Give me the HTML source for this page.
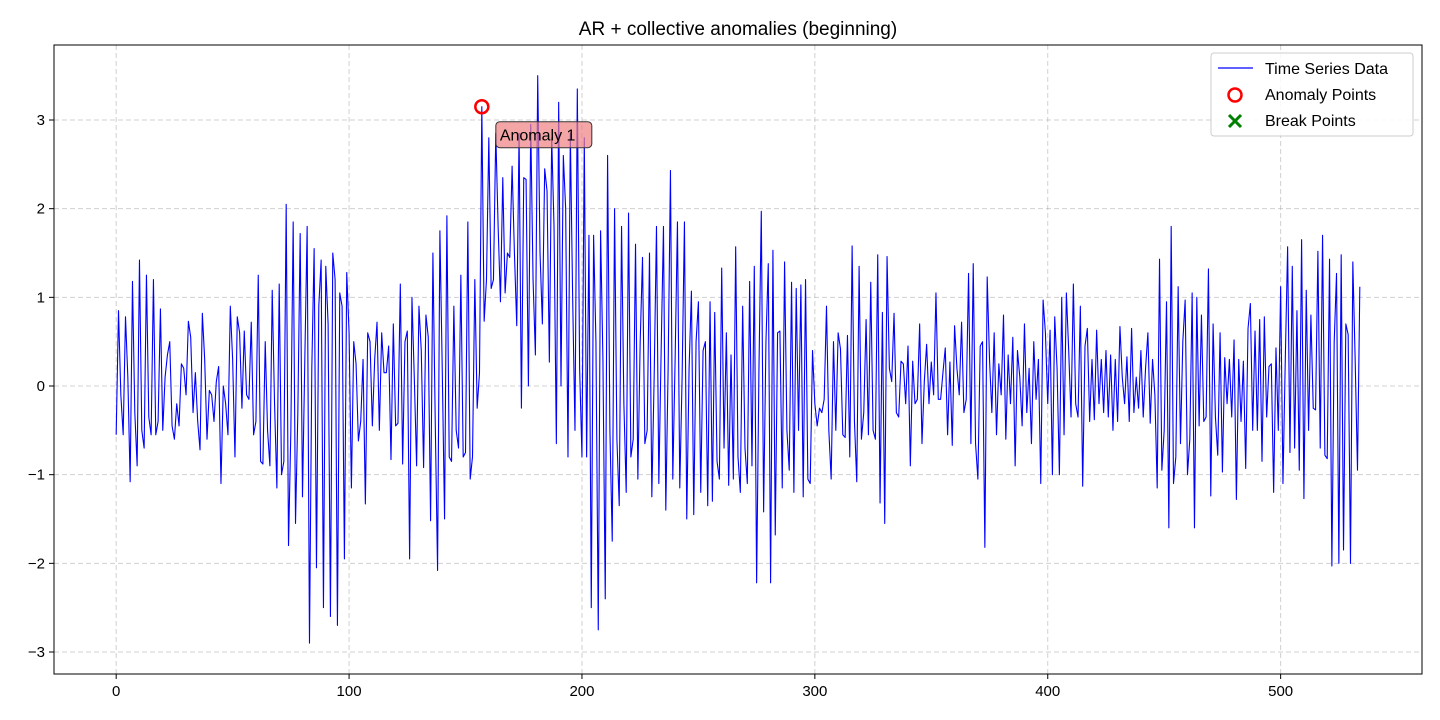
<!DOCTYPE html>
<html><head><meta charset="utf-8"><style>
html,body{margin:0;padding:0;background:#fff;}
svg{display:block;font-family:"Liberation Sans","DejaVu Sans",sans-serif;}
</style></head><body>
<svg id="chart" width="1440" height="720" viewBox="0 0 1440 720" xmlns="http://www.w3.org/2000/svg">
<rect width="1440" height="720" fill="#fff"/>
<text x="738" y="35" text-anchor="middle" font-size="19">AR + collective anomalies (beginning)</text>
<g id="grid"></g>
<g id="ticks"></g>
<g id="series"></g>
<rect x="54" y="45" width="1368" height="629" fill="none" stroke="#000" stroke-width="1"/>
<g id="anno"></g>
<g>
<rect x="1211" y="53" width="202" height="83" rx="3" fill="#fff" fill-opacity="0.85" stroke="#ccc"/>
<line x1="1218" y1="68" x2="1253" y2="68" stroke="#0000ff" stroke-width="1.2"/>
<text x="1265" y="74" font-size="16">Time Series Data</text>
<circle cx="1235" cy="95" r="6.5" fill="none" stroke="#ff0000" stroke-width="2.5"/>
<text x="1265" y="100" font-size="16">Anomaly Points</text>
<g stroke="#008000" stroke-width="3"><line x1="1229" y1="115" x2="1241" y2="127"/><line x1="1241" y1="115" x2="1229" y2="127"/></g>
<text x="1265" y="126" font-size="16">Break Points</text>
</g>
</svg>
<script>
const values = [
-0.55,0.85,-0.1,-0.55,0.78,0.1,-1.08,1.18,-0.3,-0.9,1.42,-0.5,-0.7,1.25,-0.35,-0.55,1.2,-0.55,-0.4,0.87,-0.5,0.1,0.35,0.5,-0.45,-0.6,
-0.2,-0.45,0.25,0.2,-0.1,0.73,0.55,-0.3,0.15,-0.4,-0.72,0.82,0.3,-0.6,-0.05,-0.1,-0.4,0.05,0.22,-1.1,0,-0.2,-0.55,0.9,0.3,
-0.8,0.78,0.6,-0.25,0.62,-0.1,-0.15,0.72,-0.55,-0.4,1.25,-0.85,-0.88,0.5,-0.5,-0.9,1.08,-0.2,-1.15,1.15,-1.0,-0.85,2.05,-1.8,-0.5,
1.85,-1.55,-0.3,1.72,-1.25,0.3,1.8,-2.9,0.2,1.55,-2.05,0.9,1.42,-2.5,1.35,0.7,-2.6,1.5,1.2,-2.7,1.05,0.9,-1.95,1.28,0.6,
-1.15,0.5,0.25,-0.62,-0.4,0.3,-1.33,0.6,0.5,-0.45,0.3,0.72,-0.5,0.6,0.15,0.15,0.45,-0.83,0.7,-0.45,-0.42,1.15,-0.88,0.5,0.62,
-1.95,1.0,0.1,-0.9,0.9,0.4,-0.92,0.8,0.55,-1.52,1.5,-0.4,-2.08,1.75,0.2,-1.5,1.92,-0.8,-0.85,0.9,-0.5,-0.7,1.25,-0.8,-0.75,
1.85,-1.05,-0.8,1.2,-0.25,0.15,3.15,0.73,1.2,2.8,1.1,1.2,2.85,1.8,0.95,2.35,1.05,1.5,1.45,2.48,1.5,0.68,2.85,-0.25,2.35,
2.33,0,2.95,1.2,0.35,3.5,1.5,0.7,2.45,2.2,0.27,2.8,1.8,-0.65,3.2,0,2.6,2.0,-0.8,2.85,1.0,-0.5,3.35,0.2,-0.8,
2.8,-0.8,1.7,-2.5,1.7,0.5,-2.75,1.75,0.3,-2.4,2.6,-0.5,-1.75,2.0,-0.6,-1.35,1.8,-0.2,-1.2,1.95,-0.8,-0.6,1.6,-1.05,0.5,
1.45,-0.65,-0.5,1.5,-1.25,0.1,1.8,-1.1,0.4,1.8,-1.4,0.2,2.43,-1.05,0.3,1.85,-1.15,0.1,1.85,-1.5,0.2,1.07,-1.45,0.5,0.95,
-1.2,0.4,0.5,-1.35,0.95,-1.3,0.83,-0.85,-1.05,1.33,-0.7,0.6,-1.12,0.35,-1.05,1.57,-0.8,-1.2,0.9,-0.7,-1.1,1.18,-0.9,1.35,-2.22,
0.2,1.97,-1.42,0.5,1.38,-2.22,1.53,-1.68,0.6,0.62,-1.15,1.4,-0.5,-0.95,1.17,-1.2,1.1,-0.5,1.14,-1.25,1.2,-1.05,-1.1,0.4,-0.2,
-0.45,-0.25,-0.3,-0.15,0.9,-0.5,-1.05,0.5,-0.5,0.6,0.42,-0.55,-0.58,0.57,-0.8,1.58,-0.4,-1.08,1.35,-0.6,-0.3,0.75,-0.55,1.17,-0.5,
-0.6,1.48,-1.32,0.83,-1.55,1.46,0.2,0.05,0.82,-0.3,-0.35,0.28,0.25,-0.2,0.45,-0.9,0.28,-0.2,-0.15,0.7,-0.65,0.05,0.47,-0.2,0.27,
-0.1,1.05,-0.15,-0.15,0.15,0.43,-0.55,0.27,-0.67,0.68,0.2,-0.1,0.72,-0.3,-0.15,1.27,-0.65,1.38,-0.65,-1.05,0.45,0.5,-1.82,1.23,0.3,
-0.3,0.6,-0.55,0.25,-0.1,0.8,-0.6,0.35,-0.2,0.55,-0.9,0.4,0.1,-0.45,0.7,-0.3,0.2,-0.65,0.5,-0.15,0.3,
-1.1,0.97,0.6,-0.2,0.63,-1.0,0.78,0.2,-1.0,1.0,-0.55,1.05,0.4,-0.35,1.15,-0.2,-0.35,0.9,-1.13,0.45,0.65,-0.4,0.3,-0.38,0.63,
-0.2,0.3,-0.3,0.4,-0.35,0.35,-0.5,0.3,-0.4,0.67,0.1,-0.2,0.33,-0.4,0.65,-0.3,0.1,-0.25,0.4,-0.35,0.2,0.6,-0.42,0.3,-0.1,
-1.15,1.43,-0.95,-0.5,0.95,-1.6,1.8,-1.1,-0.8,1.12,-0.65,0.5,0.97,-1.0,-0.6,
1.05,-1.6,1.0,-0.45,0.8,-0.4,-0.35,1.32,-1.24,0.7,-0.35,-0.78,0.6,-0.97,0.32,-0.2,0.3,-0.35,0.52,-1.28,0.3,-0.4,0.28,-0.93,0.65,
0.93,-0.5,0.62,-0.5,0.75,-0.85,0.78,-0.35,0.22,0.25,-1.2,0.43,-0.5,1.12,-1.1,0.3,1.57,-0.75,1.35,-0.7,0.85,-0.95,1.65,-1.27,1.08,
-0.5,0.8,-0.25,-0.27,1.52,-0.7,1.7,-0.78,-0.82,1.43,-2.03,0.5,1.27,-2.0,1.48,-1.85,0.7,0.58,-2.0,1.4,0.3,-0.95,1.12
];
const anomalyX = [157];
const xTicks = [0,100,200,300,400,500];
const yTicks = [-3,-2,-1,0,1,2,3];
const annoLabels = ["Anomaly 1"];

const NS="http://www.w3.org/2000/svg";
const L=54,R=1422,T=45,B=674;
const n=values.length;
const xmin=-0.05*(n-1), xmax=(n-1)*1.05;
const ymin=-3.248, ymax=3.846;
const sx=v=>L+(v-xmin)/(xmax-xmin)*(R-L);
const sy=v=>B-(v-ymin)/(ymax-ymin)*(B-T);
function mk(tag,attrs,parent){const e=document.createElementNS(NS,tag);for(const k in attrs)e.setAttribute(k,attrs[k]);parent.appendChild(e);return e;}
const grid=document.getElementById('grid'),ticks=document.getElementById('ticks');
xTicks.forEach(t=>{
  const x=sx(t);
  const g=mk('line',{x1:x,x2:x,y1:T,y2:B,stroke:'#b0b0b0','stroke-dasharray':'5,3','stroke-opacity':0.6},grid);
  
  
  mk('line',{x1:x,x2:x,y1:B,y2:B+5,stroke:'#000'},ticks);
  const tx=mk('text',{x:x,y:B+22,'text-anchor':'middle','font-size':15},ticks);
  tx.textContent=t;
  
  
});
yTicks.forEach(t=>{
  const y=sy(t);
  const g=mk('line',{x1:L,x2:R,y1:y,y2:y,stroke:'#b0b0b0','stroke-dasharray':'5,3','stroke-opacity':0.6},grid);
  
  
  mk('line',{x1:L-5,x2:L,y1:y,y2:y,stroke:'#000'},ticks);
  const tx=mk('text',{x:L-9,y:y+5,'text-anchor':'end','font-size':15},ticks);
  tx.textContent=(t<0?'\u2212'+(-t):t);
  
  
});
const series=document.getElementById('series');
let d='';values.forEach((v,i)=>{d+=(i?'L':'M')+sx(i).toFixed(2)+','+sy(v).toFixed(2);});
const p=mk('path',{d:d,fill:'none',stroke:'#0000ff','stroke-width':1.1,'stroke-linejoin':'round'},series);


const anno=document.getElementById('anno');
anomalyX.forEach((ax,k)=>{
  const cx=sx(ax),cy=sy(values[ax]);
  const c=mk('circle',{cx:cx,cy:cy,r:6.5,fill:'none',stroke:'#ff0000','stroke-width':2.5},anno);
  
  
  const bx=mk('rect',{x:cx+14,y:cy+15,width:96,height:26,rx:4,fill:'#f08080','fill-opacity':0.7,stroke:'#333','stroke-width':1},anno);
  
  
  const tx=mk('text',{x:cx+18,y:cy+34,'font-size':16},anno);
  tx.textContent=annoLabels[k];
  
  
});
</script>
</body></html>
